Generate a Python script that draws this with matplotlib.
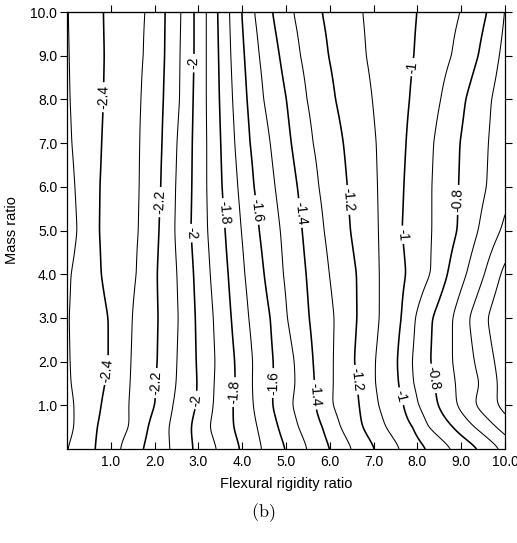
import numpy as np
import matplotlib
matplotlib.use("Agg")
import matplotlib.pyplot as plt

plt.rcParams["font.family"] = ["Liberation Sans", "DejaVu Sans"]
plt.rcParams["mathtext.fontset"] = "cm"
plt.rcParams["contour.negative_linestyle"] = "solid"

# Mass-ratio rows at which the contour crossings were tabulated
mass_rows = [10, 9, 8, 7, 6, 5, 4, 3, 2, 1.5, 1, 0.5, 0]

# Contour levels and the flexural-rigidity ratio at which each level is crossed on every row
levels = [-2.5, -2.4, -2.3, -2.2, -2.1, -2.0, -1.9, -1.8, -1.7, -1.6, -1.5,
          -1.4, -1.3, -1.2, -1.1, -1.0, -0.9, -0.8, -0.7, -0.6, -0.5, -0.4]
nan = np.nan
crossings = [
    [0.03, 0.05, 0.07, 0.11, 0.18, 0.23, 0.09, 0.05, 0.07, 0.09, 0.16, 0.16, 0.01],
    [0.83, 0.85, 0.83, 0.79, 0.75, 0.74, 0.78, 0.94, 0.94, 0.87, 0.78, 0.69, 0.64],
    [1.78, 1.74, 1.69, 1.66, 1.65, 1.63, 1.58, 1.49, 1.46, 1.44, 1.41, 1.42, 1.21],
    [2.24, 2.23, 2.20, 2.17, 2.14, 2.10, 2.06, 2.08, 2.06, 2.03, 2.01, 1.85, 1.73],
    [2.60, 2.58, 2.57, 2.51, 2.48, 2.46, 2.51, 2.54, 2.51, 2.49, 2.42, 2.32, 2.35],
    [2.90, 2.90, 2.88, 2.86, 2.85, 2.83, 2.89, 2.93, 2.95, 2.97, 2.95, 2.83, 2.88],
    [3.18, 3.18, 3.18, 3.19, 3.19, 3.21, 3.27, 3.34, 3.38, 3.36, 3.34, 3.25, 3.42],
    [3.44, 3.46, 3.48, 3.51, 3.54, 3.61, 3.68, 3.75, 3.83, 3.84, 3.79, 3.80, 3.95],
    [3.71, 3.74, 3.78, 3.83, 3.90, 3.98, 4.06, 4.15, 4.24, 4.23, 4.25, 4.34, 4.45],
    [3.99, 4.05, 4.11, 4.18, 4.27, 4.39, 4.50, 4.64, 4.71, 4.71, 4.69, 4.82, 4.99],
    [4.28, 4.39, 4.49, 4.64, 4.75, 4.87, 4.94, 5.03, 5.19, 5.21, 5.14, 5.28, 5.49],
    [4.69, 4.85, 5.01, 5.12, 5.26, 5.37, 5.46, 5.53, 5.62, 5.65, 5.67, 5.83, 6.01],
    [5.17, 5.33, 5.48, 5.62, 5.75, 5.87, 5.99, 6.10, 6.08, 6.08, 6.06, 6.24, 6.51],
    [5.82, 5.97, 6.13, 6.31, 6.40, 6.47, 6.61, 6.62, 6.56, 6.63, 6.67, 6.74, 7.04],
    [6.75, 6.83, 6.97, 7.06, 7.09, 7.11, 7.13, 7.13, 7.04, 7.04, 7.11, 7.27, 7.61],
    [7.99, 7.92, 7.82, 7.74, 7.69, 7.65, 7.74, 7.63, 7.54, 7.57, 7.68, 7.89, 8.23],
    [8.98, 8.78, 8.53, 8.37, 8.33, 8.33, 8.30, 7.95, 7.88, 7.91, 8.02, 8.25, 8.80],
    [9.59, 9.39, 9.10, 8.97, 8.94, 8.91, 8.69, 8.34, 8.30, 8.39, 8.46, 8.80, 9.42],
    [9.99, 9.87, 9.69, 9.62, 9.58, 9.39, 9.12, 8.80, 8.80, 8.87, 8.89, 9.30, 9.90],
    [nan, nan, nan, nan, nan, 9.90, 9.53, 9.18, 9.30, 9.42, 9.30, 9.79, nan],
    [nan, nan, nan, nan, nan, nan, 9.90, 9.60, 9.76, 9.83, 9.81, nan, nan],
    [nan, nan, nan, nan, nan, nan, nan, nan, nan, nan, nan, nan, nan],
]

# Levels that carry in-line labels, with the spots where the labels sit
labelled_levels = [-2.4, -2.2, -2.0, -1.8, -1.6, -1.4, -1.2, -1.0, -0.8]
label_spots = [
    (0.82, 8.05), (0.87, 1.81),
    (2.12, 5.65), (2.03, 1.51),
    (2.88, 8.83), (2.85, 4.94), (2.95, 1.12),
    (3.56, 5.40), (3.84, 1.30),
    (4.34, 5.47), (4.70, 1.51),
    (5.32, 5.40), (5.62, 1.24),
    (6.42, 5.70), (6.58, 1.58),
    (7.88, 8.74), (7.63, 4.90), (7.56, 1.19),
    (8.93, 5.70), (8.39, 1.62),
]

x_ticks = [1, 2, 3, 4, 5, 6, 7, 8, 9, 10]
y_ticks = [1, 2, 3, 4, 5, 6, 7, 8, 9, 10]


def row_profile(xs, row_x, row_v):
    """Piecewise-linear field along one row, extended at both ends."""
    order = np.argsort(row_x)
    row_x = np.asarray(row_x)[order]
    row_v = np.asarray(row_v)[order]
    out = np.interp(xs, row_x, row_v)
    lo = xs < row_x[0]
    hi = xs > row_x[-1]
    s_lo = (row_v[1] - row_v[0]) / (row_x[1] - row_x[0])
    s_hi = (row_v[-1] - row_v[-2]) / (row_x[-1] - row_x[-2])
    out[lo] = row_v[0] + s_lo * (xs[lo] - row_x[0])
    out[hi] = row_v[-1] + s_hi * (xs[hi] - row_x[-1])
    return out


xs = np.linspace(0, 10, 501)
ys = np.linspace(0, 10, 501)
cross = np.array(crossings)
lev = np.array(levels)
rows = []
for j in range(len(mass_rows)):
    ok = ~np.isnan(cross[:, j])
    rows.append(row_profile(xs, cross[ok, j], lev[ok]))
rows = np.array(rows)
my = np.array(mass_rows)[::-1]
rows = rows[::-1]
Z = np.empty((len(ys), len(xs)))
for i in range(len(xs)):
    Z[:, i] = np.interp(ys, my, rows[:, i])

# round off the corners between tabulated rows with a light gaussian pass in y
k = np.arange(-18, 19)
kern = np.exp(-0.5 * (k / 6.0) ** 2)
kern /= kern.sum()
Zp = np.pad(Z, ((18, 18), (0, 0)), mode="edge")
Z = np.array([np.convolve(Zp[:, i], kern, mode="valid") for i in range(Z.shape[1])]).T
X, Y = np.meshgrid(xs, ys)

fig = plt.figure(figsize=(5.17, 5.43), dpi=100)
ax = fig.add_axes([67 / 517, 1 - 449 / 543, 438 / 517, 437 / 543])

plain = [v for v in levels if not any(abs(v - w) < 1e-9 for w in labelled_levels)]
ax.contour(X, Y, Z, levels=plain, colors="black", linewidths=0.75,
           linestyles="solid")
cs = ax.contour(X, Y, Z, levels=labelled_levels, colors="black",
                linewidths=1.15, linestyles="solid")
ax.clabel(cs, fmt=lambda v: f"{v:g}", manual=label_spots, inline=True,
          inline_spacing=3, fontsize=10)

ax.set_xlim(0, 10)
ax.set_ylim(0, 10)
ax.set_xticks(x_ticks)
ax.set_yticks(y_ticks)
ax.set_xticklabels([f"{v:.1f}" for v in x_ticks], fontsize=10)
ax.set_yticklabels([f"{v:.1f}" for v in y_ticks], fontsize=10)
ax.tick_params(axis="x", direction="in", length=5, width=0.8, pad=4)
ax.tick_params(axis="y", direction="out", length=5, width=0.8, left=True,
               right=True, pad=2)
top = ax.secondary_xaxis("top")
top.set_xticks(x_ticks)
top.tick_params(direction="out", length=5, width=0.8, labeltop=False)
for sp in ax.spines.values():
    sp.set_linewidth(0.9)

ax.set_xlabel("Flexural rigidity ratio", fontsize=10.5, labelpad=6)
ax.set_ylabel("Mass ratio", fontsize=10.5, labelpad=8)
fig.text(263 / 517, 1 - 513 / 543, r"$\mathrm{(b)}$", fontsize=13,
         ha="center", va="center")

fig.savefig("out.png", dpi=100)
